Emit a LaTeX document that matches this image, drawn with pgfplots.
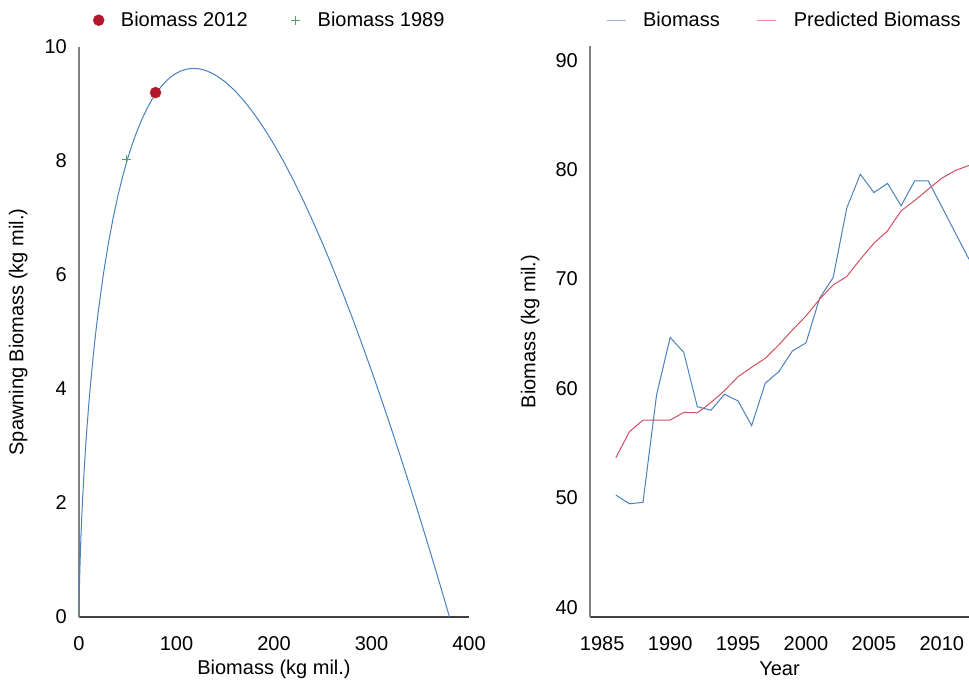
\documentclass[border=0pt]{standalone}
\usepackage{pgfplots}
\pgfplotsset{compat=1.18}
\usepackage{fontspec}
\setmainfont{Liberation Sans}
\definecolor{cblue}{RGB}{74,128,190}
\definecolor{cred}{RGB}{210,80,95}
\definecolor{cdot}{RGB}{180,22,42}
\definecolor{cgreen}{RGB}{80,160,105}
\pgfplotsset{
  myaxis/.style={
    scale only axis,
    axis x line=bottom, axis y line=left,
    x axis line style={-, black!75, line width=1.1bp},
    y axis line style={-, black!50, line width=1.1bp},
    major tick length=0pt,
    tick style={draw=none},
    /pgf/number format/assume math mode=true,
    tick label style={font=\fontsize{20bp}{24bp}\selectfont},
    label style={font=\fontsize{20bp}{24bp}\selectfont},
    yticklabel style={anchor=east, inner sep=0pt, xshift=-12bp},
    xticklabel style={anchor=center, inner sep=0pt, yshift=-27bp},
    legend style={draw=none, fill=none, inner xsep=0pt, inner ysep=0pt,
      font=\fontsize{20bp}{24bp}\selectfont, legend columns=2,
      nodes={inner sep=2bp}},
    legend cell align=left,
    clip=true,
  }
}
\begin{document}
\begin{tikzpicture}
\useasboundingbox (0,0) rectangle (969bp,680bp);
% Left axis
\begin{axis}[myaxis,
  at={(79bp,63bp)}, anchor=south west,
  width=390bp, height=570bp,
  xmin=0, xmax=400, ymin=0, ymax=10,
  xtick={0,100,200,300,400}, ytick={0,2,4,6,8,10},
  xlabel={Biomass (kg mil.)},
  ylabel={Spawning Biomass (kg mil.)},
  xlabel style={at={(axis description cs:0.5,-0.091)}, anchor=center},
  ylabel style={at={(axis description cs:-0.156,0.5)}, anchor=center},
  legend style={at={(0.036,1.047)}, anchor=west,
    /tikz/every even column/.append style={column sep=41bp}},
  legend image code/.code={\draw[#1] plot coordinates {(8bp,0bp)}; \node[inner sep=0pt,minimum size=0pt] at (28bp,0bp) {};},
]
\addplot[cblue, line width=1bp, forget plot] coordinates {
(0,0) (0.02,0.062) (0.1,0.19) (0.25,0.357) (0.5,0.569) (1,0.900) (1.5,1.172)
(2,1.409) (3,1.818) (4,2.172) (5,2.486) (7,3.035) (8,3.280) (10,3.724)
(12,4.121) (15,4.648) (17.5,5.038) (20,5.391) (25,6.012) (30,6.542) (35,6.998)
(40,7.396) (45,7.743) (50,8.047) (55,8.314) (60,8.547) (65,8.751) (70,8.928)
(75,9.081) (80,9.210) (85,9.320) (90,9.412) (95,9.485) (100,9.542) (105,9.582)
(110,9.609) (115,9.623) (120,9.622) (125,9.612) (130,9.586) (135,9.551)
(140,9.507) (150,9.388) (160,9.232) (170,9.039) (180,8.818) (190,8.567)
(200,8.290) (210,7.988) (220,7.660) (230,7.308) (240,6.936) (250,6.546)
(260,6.136) (270,5.707) (280,5.263) (290,4.799) (300,4.321) (310,3.828)
(320,3.321) (330,2.799) (340,2.264) (350,1.716) (360,1.156) (370,0.584)
(375,0.293) (380,0)
};
\addplot[only marks, mark=*, mark size=5.5bp, draw=cdot, fill=cdot] coordinates {(78.5,9.2)};
\addlegendentry{Biomass 2012}
\addplot[only marks, mark=+, mark size=4.5bp, draw=cgreen, line width=1bp] coordinates {(49.2,8.03)};
\addlegendentry{Biomass 1989}
\end{axis}
% Right axis
\begin{axis}[myaxis,
  at={(590bp,63bp)}, anchor=south west,
  width=379bp, height=571bp,
  xmin=1984.1, xmax=2012, ymin=39.1, ymax=91.3,
  xtick={1985,1990,1995,2000,2005,2010}, ytick={40,50,60,70,80,90},
  /pgf/number format/1000 sep={},
  xlabel={Year},
  ylabel={Biomass (kg mil.)},
  xlabel style={at={(axis description cs:0.5,-0.091)}, anchor=center},
  ylabel style={at={(axis description cs:-0.158,0.5)}, anchor=center},
  legend style={at={(0.042,1.0455)}, anchor=west,
    /tikz/every even column/.append style={column sep=35bp}},
  legend image code/.code={\draw[#1, opacity=0.6] (0bp,0bp) -- (19bp,0bp); \node[inner sep=0pt,minimum size=0pt] at (34bp,0bp) {};},
]
\addplot[cblue, line width=1bp] coordinates {
(1986,50.25) (1987,49.45) (1988,49.58) (1989,59.4) (1990,64.65) (1991,63.3)
(1992,58.33) (1993,58.0) (1994,59.46) (1995,58.85) (1996,56.6) (1997,60.47)
(1998,61.53) (1999,63.42) (2000,64.15) (2001,68.24) (2002,70.13) (2003,76.48)
(2004,79.58) (2005,77.9) (2006,78.74) (2007,76.69) (2008,78.97) (2009,78.97)
(2010,76.6) (2011,74.2) (2012,71.8)
};
\addlegendentry{Biomass}
\addplot[cred, line width=1bp] coordinates {
(1986,53.66) (1987,56.04) (1988,57.1) (1989,57.1) (1990,57.1) (1991,57.8)
(1992,57.77) (1993,58.7) (1994,59.79) (1995,61.07) (1996,61.93) (1997,62.75)
(1998,63.97) (1999,65.34) (2000,66.62) (2001,68.15) (2002,69.46) (2003,70.22)
(2004,71.81) (2005,73.27) (2006,74.4) (2007,76.23) (2008,77.17) (2009,78.21)
(2010,79.22) (2011,79.92) (2012,80.38)
};
\addlegendentry{Predicted Biomass}
\end{axis}
\end{tikzpicture}
\end{document}
